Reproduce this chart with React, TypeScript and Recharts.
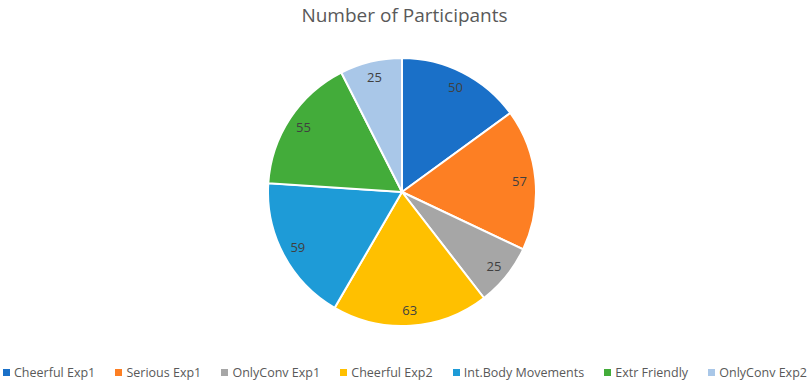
import React from "react";
import { Legend, Pie, PieChart, Cell } from "recharts";

const categories = [
  "Cheerful Exp1",
  "Serious Exp1",
  "OnlyConv Exp1",
  "Cheerful Exp2",
  "Int.Body Movements",
  "Extr Friendly",
  "OnlyConv Exp2"
];
const participants = [50, 57, 25, 63, 59, 55, 25];
const colors = ["#1A70C8", "#FD7F23", "#A6A6A6", "#FFC000", "#1E9BD7", "#43AC3A", "#A9C7E8"];

const data = categories.map((name, i) => ({ name, value: participants[i] }));

const FONT = "'Open Sans', 'Liberation Sans', sans-serif";
const RAD = Math.PI / 180;

const renderLabel = (props: any) => {
  const { cx, cy, midAngle, outerRadius, value } = props;
  const r = outerRadius - 16;
  const x = cx + r * Math.cos(-midAngle * RAD);
  const y = cy + r * Math.sin(-midAngle * RAD);
  return (
    <text
      x={x}
      y={y}
      fill="#404040"
      fontSize={13}
      fontFamily={FONT}
      textAnchor="middle"
      dominantBaseline="central"
    >
      {value}
    </text>
  );
};

const renderLegend = () => (
  <div
    style={{
      display: "flex",
      justifyContent: "space-between",
      padding: "0 2px 0 3px",
      fontFamily: FONT,
      fontSize: 12.5,
      color: "#595959"
    }}
  >
    {categories.map((c, i) => (
      <div key={c} style={{ display: "flex", alignItems: "center" }}>
        <span
          style={{
            display: "inline-block",
            width: 7,
            height: 7,
            background: colors[i],
            marginRight: 4
          }}
        />
        <span>{c}</span>
      </div>
    ))}
  </div>
);

export default function App() {
  return (
    <div style={{ position: "absolute", top: 0, left: 0, width: 809, height: 381, background: "#fff" }}>
      <div
        style={{
          position: "absolute",
          top: 2,
          width: 809,
          textAlign: "center",
          fontFamily: FONT,
          fontSize: 19,
          color: "#595959"
        }}
      >
        Number of Participants
      </div>
      <PieChart width={809} height={381} margin={{ top: 0, right: 0, bottom: 0, left: 0 }}>
        <Pie
          data={data}
          dataKey="value"
          nameKey="name"
          cx={402}
          cy={192}
          outerRadius={134}
          startAngle={90}
          endAngle={-270}
          stroke="#ffffff"
          strokeWidth={2}
          label={renderLabel}
          labelLine={false}
          isAnimationActive={false}
        >
          {data.map((d, i) => (
            <Cell key={d.name} fill={colors[i]} />
          ))}
        </Pie>
        <Legend
          content={renderLegend}
          verticalAlign="bottom"
          wrapperStyle={{ bottom: 0, left: 0, width: 809 }}
        />
      </PieChart>
    </div>
  );
}
